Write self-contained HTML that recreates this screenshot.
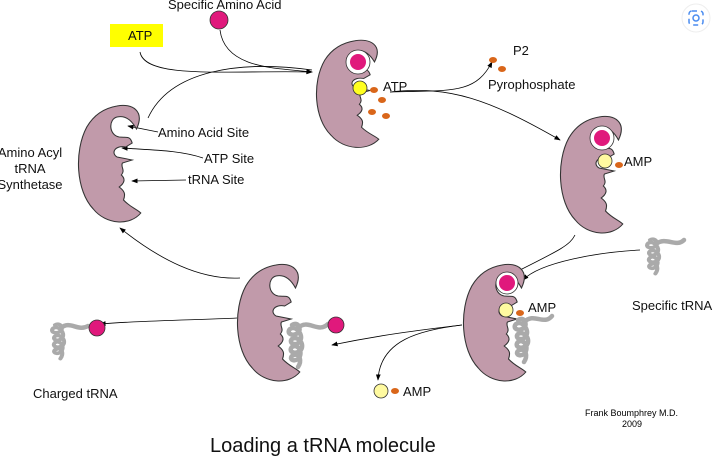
<!DOCTYPE html>
<html><head><meta charset="utf-8"><style>
body{margin:0;background:#fff;}
svg{display:block;font-family:"Liberation Sans",Arial,sans-serif;}
</style></head><body>
<svg width="714" height="457" viewBox="0 0 714 457">
<defs>
<marker id="ah" markerWidth="8" markerHeight="8" refX="7" refY="4" orient="auto"><path d="M0,1 L8,4 L0,7 Z" fill="#000"/></marker>
<path id="enz" d="M38,3 C52,0 64,8 56,26 C52,18 46,12 38,14 C30,16 30,32 40,34 C46,35 50,32 52,40 L46,44 C36,42 32,50 38,54 L52,57 L43,60 C41,64 46,67 42,72 C46,76 45,80 40,84 C45,88 46,91 44,97 C50,104 56,106 60,110 C50,123 28,122 16,106 C0,88 -2,48 10,24 C17,11 27,5 38,3 Z" fill="#c19aaa" stroke="#333" stroke-width="1"/>
<path id="trna" d="M0,0 C6,-4 10,4 6,8 C0,12 -6,8 -2,4 C4,0 12,10 8,16 C4,22 -4,18 0,14 C6,10 14,20 8,26 C2,30 -4,26 0,22 C6,18 12,28 6,34 C0,38 -4,32 2,30 C8,28 10,36 6,42" fill="none"/>
</defs>
<g fill="none" stroke="#000" stroke-width="0.8">
<path d="M140,52 C145,80 230,70 312,72" marker-end="url(#ah)"/>
<path d="M220,30 C225,70 280,68 312,72" marker-end="url(#ah)"/>
<path d="M148,118 C170,70 240,60 312,70"/>
<path d="M390,92 C450,85 490,100 560,140" marker-end="url(#ah)"/>
<path d="M390,92 C450,90 475,95 492,62" marker-end="url(#ah)"/>
<path d="M575,235 C570,245 560,250 520,270"/>
<path d="M640,250 C600,252 540,262 523,280" marker-end="url(#ah)"/>
<path d="M462,325 C420,330 380,335 332,345" marker-end="url(#ah)"/>
<path d="M462,325 C420,330 380,340 378,380" marker-end="url(#ah)"/>
<path d="M237,318 C200,320 150,320 100,324" marker-end="url(#ah)"/>
<path d="M240,278 C200,280 160,260 120,228" marker-end="url(#ah)"/>
<path d="M158,132 L128,126" marker-end="url(#ah)"/>
<path d="M203,158 C180,150 150,150 122,148" marker-end="url(#ah)"/>
<path d="M186,180 L132,181" marker-end="url(#ah)"/>
</g>
<use href="#enz" transform="translate(76,103) scale(1.08,1)"/>
<use href="#enz" transform="translate(314,38) scale(1.08,0.92)"/>
<use href="#enz" transform="translate(558,114) scale(1.08,1)"/>
<use href="#enz" transform="translate(461,262) scale(1.08,1)"/>
<use href="#enz" transform="translate(235,262) scale(1.08,1)"/>
<g stroke="#aaa" stroke-width="4.5" fill="none" stroke-linecap="round">
<use href="#trna" transform="translate(292,325)"/><path d="M298,328 C308,318 318,334 328,324"/>
<use href="#trna" transform="translate(518,320)"/><path d="M524,322 C534,312 544,326 552,316"/>
<use href="#trna" transform="translate(650,240) scale(0.9,0.8)"/><path d="M656,244 C666,236 676,248 684,240"/>
<use href="#trna" transform="translate(55,325) scale(0.9,0.8)"/><path d="M61,328 C70,320 78,332 88,326"/>
</g>
<g>
<circle cx="219" cy="20" r="9" fill="#e0197c" stroke="#333" stroke-width="0.8"/>
<circle cx="358" cy="62" r="12" fill="#fff" stroke="#333" stroke-width="0.8"/><circle cx="358" cy="62" r="8" fill="#e0197c"/>
<circle cx="360" cy="88" r="7" fill="#ffff20" stroke="#333" stroke-width="0.8"/>
<ellipse cx="374" cy="90" rx="4" ry="3" fill="#d9661a"/><ellipse cx="382" cy="100" rx="4" ry="3" fill="#d9661a"/><ellipse cx="372" cy="112" rx="4" ry="3" fill="#d9661a"/><ellipse cx="386" cy="116" rx="4" ry="3" fill="#d9661a"/>
<ellipse cx="493" cy="60" rx="4" ry="3" fill="#d9661a"/><ellipse cx="502" cy="69" rx="4" ry="3" fill="#d9661a"/>
<circle cx="602" cy="138" r="12" fill="#fff" stroke="#333" stroke-width="0.8"/><circle cx="602" cy="138" r="8" fill="#e0197c"/>
<circle cx="605" cy="161" r="7" fill="#fffaa0" stroke="#333" stroke-width="0.8"/><ellipse cx="619" cy="165" rx="4" ry="3" fill="#d9661a"/>
<circle cx="507" cy="283" r="11" fill="#fff" stroke="#333" stroke-width="0.8"/><circle cx="507" cy="283" r="8" fill="#e0197c"/>
<circle cx="506" cy="310" r="7" fill="#fffaa0" stroke="#333" stroke-width="0.8"/><ellipse cx="520" cy="313" rx="4" ry="3" fill="#d9661a"/>
<circle cx="336" cy="325" r="8" fill="#e0197c" stroke="#333" stroke-width="0.8"/>
<circle cx="97" cy="328" r="8" fill="#e0197c" stroke="#333" stroke-width="0.8"/>
<circle cx="381" cy="391" r="7" fill="#fffaa0" stroke="#333" stroke-width="0.8"/><ellipse cx="395" cy="391" rx="4" ry="3" fill="#d9661a"/>
</g>
<rect x="110" y="24" width="53" height="23" fill="#ffff00"/>
<g font-size="13" fill="#111">
<text x="128" y="40">ATP</text>
<text x="168" y="9">Specific Amino Acid</text>
<text x="158" y="137">Amino Acid Site</text>
<text x="204" y="163">ATP Site</text>
<text x="188" y="184">tRNA Site</text>
<text x="30" y="157" text-anchor="middle">Amino Acyl</text>
<text x="30" y="173" text-anchor="middle">tRNA</text>
<text x="30" y="189" text-anchor="middle">Synthetase</text>
<text x="383" y="91">ATP</text>
<text x="513" y="55">P2</text>
<text x="488" y="89">Pyrophosphate</text>
<text x="624" y="166">AMP</text>
<text x="632" y="310">Specific tRNA</text>
<text x="528" y="312">AMP</text>
<text x="403" y="396">AMP</text>
<text x="33" y="398">Charged tRNA</text>
</g>
<text x="585" y="416" font-size="9">Frank Boumphrey M.D.</text>
<text x="622" y="427" font-size="9">2009</text>
<text x="210" y="452" font-size="20" fill="#111">Loading a tRNA molecule</text>
<g>
<circle cx="696" cy="18" r="14" fill="#fff" stroke="#eee"/>
<rect x="689" y="11" width="14" height="14" rx="3" fill="none" stroke="#4a8cf0" stroke-width="1.5" stroke-dasharray="5 4"/>
<circle cx="696" cy="18" r="3" fill="none" stroke="#4a8cf0" stroke-width="1.5"/>
</g>
</svg>
</body></html>
